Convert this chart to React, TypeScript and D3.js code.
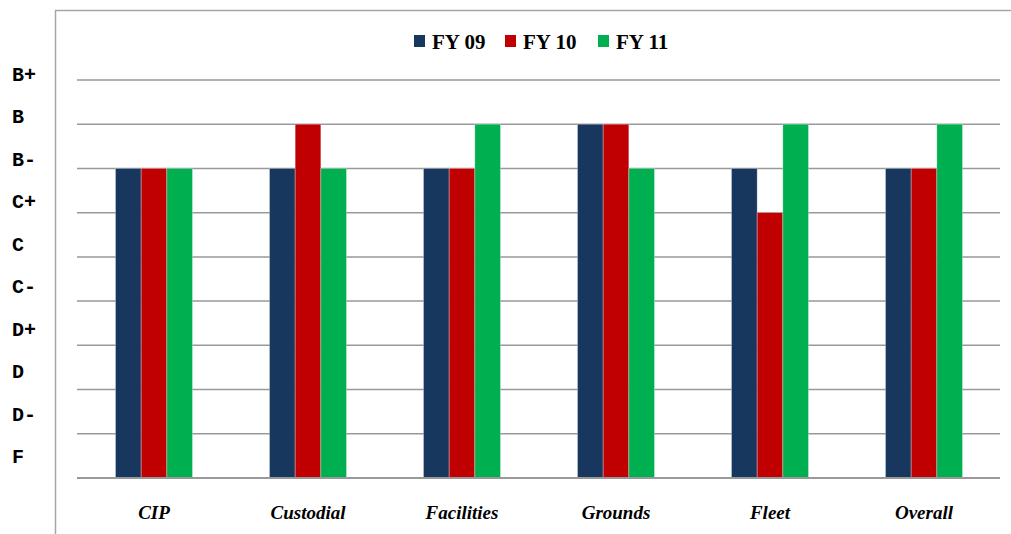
import React from "react";
import * as d3 from "d3";

const categories = ["CIP", "Custodial", "Facilities", "Grounds", "Fleet", "Overall"];
const seriesNames = ["FY 09", "FY 10", "FY 11"];
const seriesColors = ["#17375E", "#C00000", "#00B050"];
// grade scale: 0 = F ... 9 = B+
const fy09 = [7, 7, 7, 8, 7, 7];
const fy10 = [7, 8, 7, 8, 6, 7];
const fy11 = [7, 7, 8, 7, 8, 8];
const gradeLabels = ["B+", "B", "B-", "C+", "C", "C-", "D+", "D", "D-", "F"];
const gridTicks = [0, 1, 2, 3, 4, 5, 6, 7, 8, 9];

const W = 1011;
const H = 534;

export default function App() {
  const series = [fy09, fy10, fy11];
  const plotLeft = 77;
  const plotRight = 1001;
  const x = d3.scaleBand<string>().domain(categories).range([plotLeft, plotRight]).paddingInner(0.5).paddingOuter(0.25);
  const xi = d3.scaleBand<string>().domain(seriesNames).range([0, x.bandwidth()]).padding(0);
  const y = d3.scaleLinear().domain([0, 9]).range([478, 80]);
  const labelY = d3.scalePoint<string>().domain(gradeLabels).range([81, 463]);

  const legendX = [414, 505, 598];

  return (
    <svg width={W} height={H} style={{ position: "absolute", left: 0, top: 0, background: "#fff" }}>
      {/* frame */}
      <line x1={55} y1={10.5} x2={W} y2={10.5} stroke="#A6A6A6" strokeWidth={1.5} />
      <line x1={55.5} y1={10} x2={55.5} y2={H} stroke="#A6A6A6" strokeWidth={1.5} />
      {/* grid */}
      {gridTicks.map((t) => (
        <line key={t} x1={plotLeft} x2={1000} y1={y(t)} y2={y(t)} stroke="#999999" strokeWidth={t === 0 ? 2 : 1.5} />
      ))}
      {/* bars */}
      {categories.map((c, ci) => (
        <g key={c} transform={`translate(${x(c)},0)`}>
          {series.map((s, si) => (
            <rect
              key={si}
              x={xi(seriesNames[si])}
              y={y(s[ci])}
              width={xi.bandwidth()}
              height={y(0) - y(s[ci])}
              fill={seriesColors[si]}
              stroke="#ffffff"
              strokeOpacity={0.4}
              strokeWidth={0.75}
            />
          ))}
        </g>
      ))}
      {/* baseline on top */}
      <line x1={plotLeft} x2={1000} y1={y(0)} y2={y(0)} stroke="#999999" strokeWidth={2} />
      {/* y labels */}
      {gradeLabels.map((g) => (
        <text key={g} x={12} y={labelY(g)} fontFamily="'Liberation Mono', 'Courier New', monospace" fontWeight="bold" fontSize={20} fill="#000">
          {g}
        </text>
      ))}
      {/* x labels */}
      {categories.map((c) => (
        <text key={c} x={(x(c) as number) + x.bandwidth() / 2} y={519} textAnchor="middle" fontFamily="'Liberation Serif', 'Times New Roman', serif" fontWeight="bold" fontStyle="italic" fontSize={19} fill="#000">
          {c}
        </text>
      ))}
      {/* legend */}
      {seriesNames.map((n, i) => (
        <g key={n}>
          <rect x={legendX[i]} y={35} width={11} height={12} fill={seriesColors[i]} />
          <text x={legendX[i] + 18} y={49} fontFamily="'Liberation Serif', 'Times New Roman', serif" fontWeight="bold" fontSize={21} fill="#000">
            {n}
          </text>
        </g>
      ))}
    </svg>
  );
}
